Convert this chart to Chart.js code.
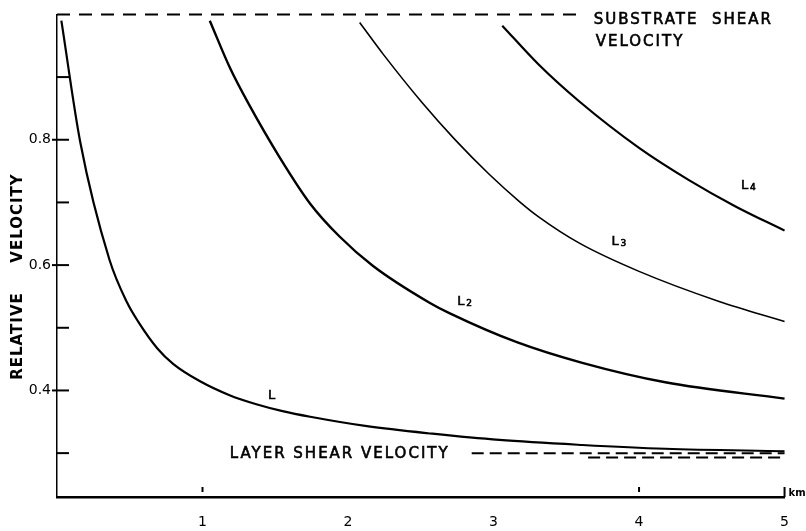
<!DOCTYPE html>
<html>
<head>
<meta charset="utf-8">
<script src="https://cdn.jsdelivr.net/npm/chart.js@4.4.1/dist/chart.umd.min.js"></script>
<style>
  body { margin: 0; background: #fff; }
  #wrap { width: 806px; height: 531px; position: relative; }
</style>
</head>
<body>
<div id="wrap"><canvas id="myChart"></canvas></div>
<script>
// distance in km, relative velocity
const l1Dist = [0.03, 0.16, 0.36, 0.48, 0.56, 0.69, 0.80, 0.98, 1.19, 1.37, 1.55, 1.74, 2.13, 2.58, 3.04, 3.61, 4.18, 5.0];
const l1Vel = [0.99, 0.796, 0.609, 0.541, 0.509, 0.467, 0.442, 0.415, 0.392, 0.378, 0.367, 0.358, 0.343, 0.331, 0.321, 0.313, 0.307, 0.303];

const l2Dist = [1.05, 1.19, 1.32, 1.53, 1.74, 1.94, 2.17, 2.56, 2.70, 3.16, 3.61, 4.18, 5.0];
const l2Vel = [0.99, 0.914, 0.856, 0.772, 0.698, 0.646, 0.599, 0.540, 0.523, 0.477, 0.444, 0.413, 0.387];

const l3Dist = [2.08, 2.24, 2.51, 2.74, 2.97, 3.18, 3.31, 3.59, 4.00, 4.55, 5.0];
const l3Vel = [0.987, 0.937, 0.859, 0.799, 0.745, 0.701, 0.677, 0.635, 0.590, 0.542, 0.510];

const l4Dist = [3.06, 3.31, 3.59, 4.00, 4.34, 4.66, 5.0];
const l4Vel = [0.982, 0.920, 0.861, 0.787, 0.736, 0.694, 0.655];

const substrateDist = [0, 3.62];
const substrateVel = [1.0, 1.0];
const layerDist = [2.85, 5.0];
const layerVel = [0.300, 0.300];
const layer2Dist = [3.65, 5.0];
const layer2Vel = [0.293, 0.293];

const xTicks = [1, 2, 3, 4, 5];
const xTickMarks = [1, 4, 5];
const yTicks = [0.4, 0.6, 0.8];
const yMinorTicks = [0.3, 0.5, 0.7, 0.9];

// curve labels: text, km, velocity
const curveNames = ["L", "L2", "L3", "L4"];
const curveNameDist = [1.45, 2.75, 3.81, 4.70];
const curveNameVel = [0.392, 0.541, 0.637, 0.727];

const FONT = "'DejaVu Sans', sans-serif";

function pts(xs, ys) {
  return xs.map((x, i) => ({ x: x, y: ys[i] }));
}

function curve(xs, ys, w) {
  return {
    data: pts(xs, ys),
    borderColor: "#000",
    borderWidth: w,
    pointRadius: 0,
    cubicInterpolationMode: "monotone",
    clip: false,
  };
}

function dashed(xs, ys, dash) {
  return {
    data: pts(xs, ys),
    borderColor: "#000",
    borderWidth: 2,
    borderDash: dash,
    pointRadius: 0,
    clip: false,
  };
}

// heavier lettering, like the pen lettering of the original
function letter(ctx, t, x, y) {
  ctx.fillText(t, x, y);
  ctx.strokeText(t, x, y);
}

const annotate = {
  id: "annotate",
  afterDraw(chart) {
    const ctx = chart.ctx;
    const xs = chart.scales.x;
    const ys = chart.scales.y;
    const left = chart.chartArea.left;
    const bottom = chart.chartArea.bottom;
    ctx.save();
    ctx.strokeStyle = "#000";
    ctx.fillStyle = "#000";

    // inward ticks on the y axis
    ctx.lineWidth = 2;
    yTicks.concat(yMinorTicks).forEach((v) => {
      const py = ys.getPixelForValue(v);
      const out = yTicks.includes(v) ? 5 : 0;
      ctx.beginPath();
      ctx.moveTo(left - out, py);
      ctx.lineTo(left + 12, py);
      ctx.stroke();
    });

    // small ticks above the x axis
    xTickMarks.forEach((v) => {
      const px = xs.getPixelForValue(v);
      ctx.beginPath();
      ctx.moveTo(px, bottom - (v === 5 ? 0 : 5));
      ctx.lineTo(px, bottom - 10);
      ctx.stroke();
    });

    ctx.lineWidth = 0.6;
    ctx.textAlign = "left";
    ctx.textBaseline = "middle";

    // curve names
    curveNames.forEach((t, i) => {
      const px = xs.getPixelForValue(curveNameDist[i]);
      const py = ys.getPixelForValue(curveNameVel[i]);
      ctx.font = "13px " + FONT;
      letter(ctx, t[0], px, py);
      if (t.length > 1) {
        ctx.font = "9px " + FONT;
        letter(ctx, t.slice(1), px + 9, py + 2);
      }
    });

    // reference line captions
    ctx.font = "15px " + FONT;
    ctx.letterSpacing = "2px";
    const sx = xs.getPixelForValue(substrateDist[1]) + 10;
    const sy = ys.getPixelForValue(substrateVel[1]);
    letter(ctx, "SUBSTRATE  SHEAR", sx, sy + 6);
    letter(ctx, "VELOCITY", sx + 2, sy + 28);
    letter(ctx, "LAYER SHEAR VELOCITY", xs.getPixelForValue(layerDist[0]) - 242, ys.getPixelForValue(layerVel[0]) + 1);

    // unit
    ctx.letterSpacing = "0px";
    ctx.font = "bold 10px " + FONT;
    ctx.fillText("km", xs.right + 4, bottom - 4);

    // y title
    ctx.font = "bold 15px " + FONT;
    ctx.letterSpacing = "1px";
    ctx.textAlign = "center";
    ctx.translate(18, 0);
    ctx.rotate(-Math.PI / 2);
    ctx.fillText("RELATIVE", -336, 0);
    ctx.fillText("VELOCITY", -218, 0);
    ctx.restore();
  },
};

const config = {
  type: "line",
  data: {
    datasets: [
      curve(l1Dist, l1Vel, 2.2),
      curve(l2Dist, l2Vel, 2.4),
      curve(l3Dist, l3Vel, 1.6),
      curve(l4Dist, l4Vel, 2.2),
      dashed(substrateDist, substrateVel, [13, 9]),
      dashed(layerDist, layerVel, [12, 6]),
      dashed(layer2Dist, layer2Vel, [12, 6]),
    ],
  },
  options: {
    responsive: true,
    maintainAspectRatio: false,
    animation: false,
    layout: { padding: { left: 0, top: 11, right: 20, bottom: 0 } },
    plugins: { legend: { display: false }, tooltip: { enabled: false } },
    scales: {
      x: {
        type: "linear",
        min: 0,
        max: 5,
        afterBuildTicks: (s) => { s.ticks = xTicks.map((v) => ({ value: v })); },
        afterFit: (s) => { s.height = 34; },
        ticks: {
          color: "#000",
          font: { family: FONT, size: 14 },
          padding: 17,
          callback: (v) => String(v),
        },
        grid: { display: true, drawOnChartArea: false, drawTicks: false },
        border: { display: true, color: "#000", width: 2.5 },
      },
      y: {
        type: "linear",
        min: 0.23,
        max: 1.0,
        afterBuildTicks: (s) => { s.ticks = yTicks.map((v) => ({ value: v })); },
        afterFit: (s) => { s.width = 57; },
        ticks: {
          color: "#000",
          font: { family: FONT, size: 14 },
          padding: 6,
          callback: (v) => v.toFixed(1),
        },
        grid: { display: true, drawOnChartArea: false, drawTicks: false },
        border: { display: true, color: "#000", width: 1.5, dash: [8, 3] },
      },
    },
  },
  plugins: [annotate],
};

new Chart(document.getElementById("myChart"), config);
</script>
</body>
</html>
